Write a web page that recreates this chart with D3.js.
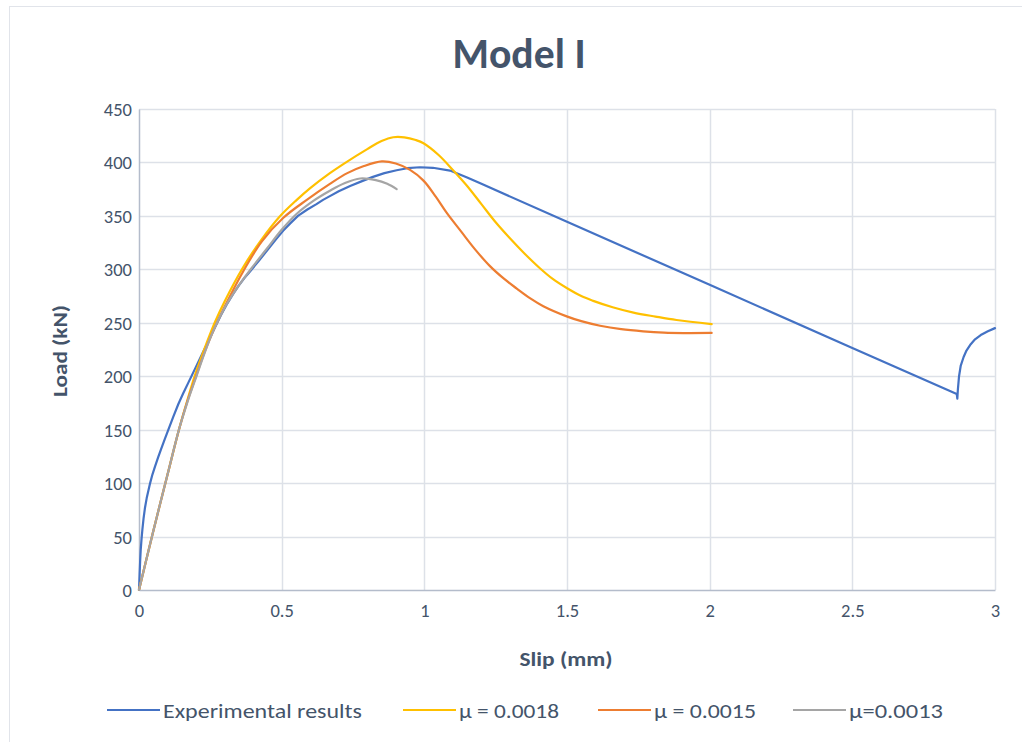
<!DOCTYPE html>
<html>
<head>
<meta charset="utf-8">
<script src="https://cdn.jsdelivr.net/npm/d3@7"></script>
<style>
  html, body { margin: 0; padding: 0; background: #fff; }
  svg { display: block; }
  text { font-family: Carlito, Calibri, Lato, "Noto Sans", sans-serif; }
</style>
</head>
<body>
<svg id="chart" width="1022" height="742"></svg>
<script>
// Slip (mm) / load (kN) pairs for each curve
const experimental = [
  [0, 0], [0.002, 14], [0.004, 27], [0.006, 37.5], [0.009, 48], [0.012, 57],
  [0.016, 67], [0.021, 77], [0.027, 86], [0.033, 93], [0.039, 100],
  [0.047, 108], [0.056, 115.5], [0.067, 124], [0.079, 133], [0.09, 141],
  [0.1, 148], [0.12, 162], [0.138, 174], [0.155, 184], [0.173, 194],
  [0.2, 209], [0.22, 220], [0.245, 234], [0.267, 246], [0.287, 257],
  [0.307, 267], [0.33, 277], [0.35, 285], [0.37, 292], [0.389, 298],
  [0.42, 308], [0.45, 318], [0.48, 328], [0.505, 336], [0.53, 343],
  [0.557, 350], [0.59, 356], [0.622, 361], [0.645, 365], [0.669, 368.5],
  [0.7, 373], [0.74, 378], [0.786, 383], [0.82, 386.5], [0.86, 390],
  [0.903, 392.7], [0.94, 394.6], [0.985, 395.5], [1.03, 395], [1.09, 392.4],
  [1.15, 386], [1.2, 380], [1.5, 344.5], [2.0, 285.5], [2.5, 226.5],
  [2.866, 183.3], [2.868, 179], [2.87, 188], [2.874, 200], [2.88, 210],
  [2.89, 218], [2.9, 224], [2.915, 230], [2.93, 234.5], [2.95, 238.5],
  [2.975, 242], [3.0, 245]
];
const mu0018 = [
  [0, 0], [0.05, 55], [0.1, 108], [0.14, 150], [0.17, 178], [0.2, 204],
  [0.237, 231], [0.266, 250.5], [0.3, 270], [0.365, 302], [0.43, 328],
  [0.494, 349.6], [0.553, 365], [0.6, 376], [0.669, 390], [0.716, 398.5],
  [0.8, 412.5], [0.85, 420], [0.891, 423.6], [0.93, 423.5], [0.97, 421],
  [0.997, 418], [1.05, 407], [1.1, 393], [1.15, 378], [1.2, 361],
  [1.25, 344], [1.3, 329], [1.35, 315], [1.405, 301], [1.45, 291],
  [1.499, 282.5], [1.55, 275], [1.592, 270.5], [1.66, 264.5], [1.733, 259.5],
  [1.81, 255.8], [1.884, 252.6], [2.007, 248.8]
];
const mu0015 = [
  [0, 0], [0.05, 55], [0.1, 108], [0.14, 150], [0.17, 177], [0.2, 200],
  [0.225, 219], [0.266, 246], [0.3, 265], [0.365, 298], [0.43, 326],
  [0.505, 348], [0.588, 365], [0.669, 380], [0.73, 390], [0.786, 396.4],
  [0.851, 401], [0.9, 399], [0.95, 393], [0.997, 383], [1.04, 368],
  [1.078, 353], [1.13, 335], [1.18, 318], [1.23, 303], [1.28, 291],
  [1.324, 282], [1.37, 273], [1.417, 265.5], [1.499, 256], [1.55, 251.5],
  [1.616, 247.2], [1.69, 244], [1.767, 242], [1.84, 240.8], [1.908, 240.4],
  [2.007, 240.5]
];
const mu0013 = [
  [0, 0], [0.05, 55], [0.1, 108], [0.14, 150], [0.17, 176], [0.2, 199],
  [0.25, 236], [0.3, 264], [0.35, 285], [0.4, 303], [0.45, 320],
  [0.5, 337], [0.553, 352], [0.611, 364], [0.669, 373.5], [0.72, 380.5],
  [0.775, 385], [0.83, 383.5], [0.87, 380], [0.903, 375]
];

const seriesNames = ["Experimental results", "\u03bc = 0.0018", "\u03bc = 0.0015", "\u03bc=0.0013"];
const seriesColors = ["#4472C4", "#FFC000", "#ED7D31", "#A5A5A5"];
const seriesData = [experimental, mu0018, mu0015, mu0013];

const xTicks = [0, 0.5, 1, 1.5, 2, 2.5, 3];
const yTicks = [0, 50, 100, 150, 200, 250, 300, 350, 400, 450];

const svg = d3.select("#chart");
const W = 1022, H = 742;
const plot = { left: 139, right: 995, top: 109, bottom: 590 };

// Outer chart frame
svg.append("rect")
  .attr("x", 9.5).attr("y", 6.5)
  .attr("width", W + 20).attr("height", H + 20)
  .attr("fill", "#fff").attr("stroke", "#E1E4EA").attr("stroke-width", 1);

const x = d3.scaleLinear().domain([0, 3]).range([plot.left, plot.right]);
const y = d3.scaleLinear().domain([0, 450]).range([plot.bottom, plot.top]);

// Gridlines
const grid = svg.append("g");
grid.selectAll("line.h").data(yTicks.filter(d => d > 0)).join("line")
  .attr("x1", plot.left).attr("x2", plot.right)
  .attr("y1", d => Math.round(y(d)) + 0.5).attr("y2", d => Math.round(y(d)) + 0.5)
  .attr("stroke", "#DDE1E8").attr("stroke-width", 1.5);
grid.selectAll("line.v").data(xTicks.filter(d => d > 0)).join("line")
  .attr("y1", plot.top).attr("y2", plot.bottom)
  .attr("x1", d => Math.round(x(d)) + 0.5).attr("x2", d => Math.round(x(d)) + 0.5)
  .attr("stroke", "#DDE1E8").attr("stroke-width", 1.5);

// Axes
const xAxis = d3.axisBottom(x).tickValues(xTicks).tickSize(0).tickPadding(14)
  .tickFormat(d => String(d));
const yAxis = d3.axisLeft(y).tickValues(yTicks).tickSize(0).tickPadding(7)
  .tickFormat(d => String(d));

const gx = svg.append("g").attr("transform", `translate(0,${plot.bottom})`).call(xAxis);
const gy = svg.append("g").attr("transform", `translate(${plot.left},0)`).call(yAxis);
[gx, gy].forEach(g => {
  g.select(".domain").attr("stroke", "#B4BCCB").attr("stroke-width", 1.5);
  g.selectAll("text").attr("fill", "#44546A").attr("font-size", 18.5);
});
gy.selectAll("text").attr("dy", "0.35em");

// Series lines: measured curve joined point to point, model curves smoothed
const lineLinear = d3.line().x(d => x(d[0])).y(d => y(d[1])).curve(d3.curveLinear);
const lineSmooth = d3.line().x(d => x(d[0])).y(d => y(d[1])).curve(d3.curveCatmullRom.alpha(0.5));
const order = [0, 1, 2, 3];
svg.append("g").selectAll("path").data(order).join("path")
  .attr("d", i => (i === 0 ? lineLinear : lineSmooth)(seriesData[i]))
  .attr("fill", "none")
  .attr("stroke", i => seriesColors[i])
  .attr("stroke-width", 2.2)
  .attr("stroke-linejoin", "round")
  .attr("stroke-linecap", "round");

// Titles
svg.append("text").attr("x", 519).attr("y", 68).attr("text-anchor", "middle")
  .attr("font-size", 42).attr("font-weight", "bold").attr("fill", "#44546A")
  .attr("textLength", 133).attr("lengthAdjust", "spacingAndGlyphs")
  .text("Model I");
svg.append("text").attr("x", 566).attr("y", 666).attr("text-anchor", "middle")
  .attr("font-size", 20).attr("font-weight", "bold").attr("fill", "#44546A")
  .attr("textLength", 93).attr("lengthAdjust", "spacingAndGlyphs")
  .text("Slip (mm)");
svg.append("text").attr("transform", "translate(67,351) rotate(-90)")
  .attr("text-anchor", "middle")
  .attr("font-size", 20).attr("font-weight", "bold").attr("fill", "#44546A")
  .attr("textLength", 92).attr("lengthAdjust", "spacingAndGlyphs")
  .text("Load (kN)");

// Legend
const legendX = [107, 403, 598, 793];
const legendTextW = [199, 100, 102, 94];
const lg = svg.append("g").selectAll("g").data(order).join("g")
  .attr("transform", i => `translate(${legendX[i]},710)`);
lg.append("line").attr("x1", 0).attr("x2", 53).attr("y1", 0).attr("y2", 0)
  .attr("stroke", i => seriesColors[i]).attr("stroke-width", 2.2);
lg.append("text").attr("x", 56).attr("y", 0).attr("dy", "0.36em")
  .attr("font-size", 21).attr("fill", "#44546A")
  .attr("textLength", i => legendTextW[i]).attr("lengthAdjust", "spacingAndGlyphs")
  .text(i => seriesNames[i]);
</script>
</body>
</html>
